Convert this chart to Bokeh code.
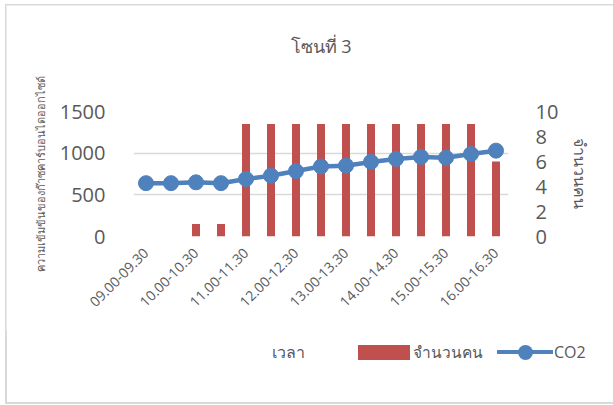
from bokeh.plotting import figure
from bokeh.layouts import column
from bokeh.models import (ColumnDataSource, Range1d, LinearAxis, FixedTicker,
                          Title, Div)
from bokeh.embed import file_html
from bokeh.resources import INLINE

# half-hour time slots
slots = ["09.00-09.30", "09.30-10.00", "10.00-10.30", "10.30-11.00",
         "11.00-11.30", "11.30-12.00", "12.00-12.30", "12.30-13.00",
         "13.00-13.30", "13.30-14.00", "14.00-14.30", "14.30-15.00",
         "15.00-15.30", "15.30-16.00", "16.00-16.30"]
# number of people in the zone (right axis)
people = [0, 0, 1, 1, 9, 9, 9, 9, 9, 9, 9, 9, 9, 9, 6]
# CO2 concentration, ppm (left axis)
co2 = [640, 640, 650, 640, 690, 730, 785, 840, 850, 895, 930, 955, 945, 990, 1030]

left_ticks = [0, 500, 1000, 1500]
right_ticks = [0, 2, 4, 6, 8, 10]

TEXT = "#595959"
GRID = "#D9D9D9"
RED = "#C0504D"
BLUE = "#4F81BD"
FONT = "Open Sans"

# each slot sits at its position in the list
slot_pos = list(range(len(slots)))
src = ColumnDataSource(dict(pos=slot_pos, slot=slots, people=people, co2=co2))

# thin grey frame around the whole chart area (drawn as CSS backgrounds)
edge = "linear-gradient(#D9D9D9, #D9D9D9)"
top_css = (f"{edge} 5px 4px / 1.5px 330px no-repeat, "
           f"{edge} 5px 4px / 620px 1.5px no-repeat, #ffffff")

# ---- main chart --------------------------------------------------------
p = figure(width=613, height=330, output_backend="svg", toolbar_location=None,
           x_range=Range1d(-0.5, len(slots) - 0.5),
           y_range=Range1d(0, 1500), x_axis_location=None,
           min_border_left=133, min_border_right=105,
           min_border_top=111, min_border_bottom=94,
           styles={"background": top_css})
p.outline_line_color = None
p.background_fill_color = "white"
p.border_fill_alpha = 0
p.extra_y_ranges = {"people": Range1d(0, 10)}

bars = p.vbar(x="pos", top="people", width=0.32, source=src,
              y_range_name="people", color=RED, line_color=None)
line = p.line(x="pos", y="co2", source=src, line_color=BLUE, line_width=4.5)
dots = p.scatter(x="pos", y="co2", source=src, size=15, marker="circle",
                 fill_color=BLUE, line_color=BLUE)

# left axis
ya = p.yaxis[0]
ya.ticker = FixedTicker(ticks=left_ticks)
ya.axis_line_color = None
ya.major_tick_line_color = None
ya.minor_tick_line_color = None
ya.major_label_standoff = 22
ya.major_label_text_font = FONT
ya.major_label_text_font_size = "20px"
ya.major_label_text_color = TEXT
ya.axis_label = "ความเข้มข้นของก๊าซคาร์บอนไดออกไซด์"
ya.axis_label_text_font = FONT
ya.axis_label_text_font_size = "11px"
ya.axis_label_text_font_style = "normal"
ya.axis_label_text_color = TEXT
ya.axis_label_standoff = 9

# grid
p.ygrid.grid_line_color = GRID
p.ygrid.grid_line_width = 1.3

# right axis
ra = LinearAxis(y_range_name="people", ticker=FixedTicker(ticks=right_ticks))
ra.axis_line_color = None
ra.major_tick_line_color = None
ra.minor_tick_line_color = None
ra.major_label_standoff = 21
ra.major_label_text_font = FONT
ra.major_label_text_font_size = "20px"
ra.major_label_text_color = TEXT
ra.axis_label = "จำนวนคน"
ra.axis_label_text_font = FONT
ra.axis_label_text_font_size = "16px"
ra.axis_label_text_font_style = "normal"
ra.axis_label_text_color = TEXT
ra.axis_label_standoff = 8
p.add_layout(ra, "right")

# bottom axis: every other time slot labelled
labelled = slot_pos[::2]
xa = LinearAxis(ticker=FixedTicker(ticks=labelled))
xa.major_label_overrides = {i: slots[i] for i in labelled}
xa.axis_line_color = None
xa.major_tick_line_color = None
xa.minor_tick_line_color = None
xa.major_label_orientation = 0.785398
xa.major_label_standoff = 8
xa.major_label_text_font = FONT
xa.major_label_text_font_size = "14px"
xa.major_label_text_color = TEXT
p.add_layout(xa, "below")
p.xgrid.grid_line_color = None

# gap between the plot area and the chart title
p.add_layout(Title(text=" ", standoff=41, text_font_size="10px"), "above")

# chart title
p.title.text = "โซนที่ 3"
p.title.align = "center"
p.title.text_font = FONT
p.title.text_font_size = "18px"
p.title.text_font_style = "normal"
p.title.text_color = TEXT
p.title.standoff = 0

# ---- strip under the chart: axis title and legend ----------------------
def box(left, top, width, height, color, extra=""):
    return (f'<div style="position:absolute;left:{left}px;top:{top}px;'
            f'width:{width}px;height:{height}px;background:{color};{extra}"></div>')


def words(left, text, size):
    return (f'<div style="position:absolute;left:{left}px;top:10px;height:24px;'
            f'line-height:24px;font-family:\'{FONT}\',sans-serif;font-size:{size}px;'
            f'color:{TEXT};white-space:nowrap">{text}</div>')


strip = (
    '<div style="position:relative;width:613px;height:75px;margin:0;padding:0">'
    + box(5, 0, 1.5, 73.5, GRID)              # left edge of chart frame
    + box(5, 72, 620, 1.5, GRID)              # bottom edge of chart frame
    + words(272, "เวลา", 16)                  # time axis title
    + box(358, 15, 52, 15, RED)               # key: people bars
    + words(413, "จำนวนคน", 15.5)
    + box(497, 19.75, 56, 4.5, BLUE)          # key: CO2 line
    + box(517.5, 14.5, 15, 15, BLUE, "border-radius:50%")
    + words(554, "CO2", 16)
    + "</div>"
)
legend_strip = Div(text=strip, width=613, height=75,
                   styles={"margin": "0", "padding": "0"})

page = column(p, legend_strip, spacing=0)

open("out.html", "w").write(file_html(page, INLINE))
